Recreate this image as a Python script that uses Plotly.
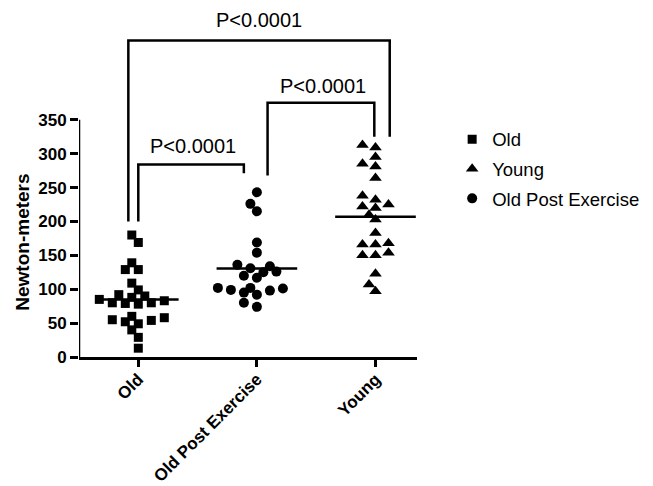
import numpy as np
import plotly.graph_objects as go

# ---------------- data ----------------
categories = ["Old", "Old Post Exercise", "Young"]
old_values = [180, 169, 139, 129, 129, 109, 99, 92, 90, 88, 85, 83, 80, 80, 79, 78,
              60, 58, 55, 54, 52, 49, 40, 29, 13]
ope_values = [243, 226, 215, 169, 154, 136, 134, 131, 126, 125, 120, 117, 102, 102,
              101, 99, 98, 95, 92, 80, 74]
young_values = [309, 313, 295, 285, 281, 264, 238, 232, 222, 220, 225, 203, 210, 183,
                166, 168, 166, 154, 150, 150, 123, 97, 107]
y_ticks = [0, 50, 100, 150, 200, 250, 300, 350]
p_labels = ["P<0.0001", "P<0.0001", "P<0.0001"]
y_title = "Newton-meters"

# ---------------- layout constants ----------------
# page body has an 8px default margin, so the figure is slightly smaller
W, H = 645, 478
ML, MR, MT, MB = 71, 236, 0, 129
Y_RANGE = [0, 515]
X_RANGE = [-0.5, 2.35]
px_per_y = (H - MT - MB) / (Y_RANGE[1] - Y_RANGE[0])
px_per_x = (W - ML - MR) / (X_RANGE[1] - X_RANGE[0])
FONT = "Liberation Sans, Arial, sans-serif"


def swarm(values, diam=8.0, step=6.5):
    """Beeswarm horizontal offsets (category units) so markers do not overlap much."""
    placed = []
    offs = [0.0] * len(values)
    order = np.argsort(values)
    cand = [0] + [s for j in range(1, 12) for s in (-j, j)]
    for i in order:
        v = values[i]
        chosen = 0
        for s in cand:
            ok = True
            for ps, pv in placed:
                dx = (s - ps) * step
                dy = (v - pv) * px_per_y
                if dx * dx + dy * dy < diam * diam:
                    ok = False
                    break
            if ok:
                chosen = s
                break
        placed.append((chosen, v))
        offs[i] = chosen * step / px_per_x
    return offs


groups = [
    ("Old", 0, old_values, "square", 9),
    ("Young", 2, young_values, "triangle-up", 11),
    ("Old Post Exercise", 1, ope_values, "circle", 10),
]

fig = go.Figure()
for name, xi, vals, sym, size in groups:
    offs = swarm(vals)
    fig.add_trace(go.Scatter(
        x=[xi + o for o in offs], y=vals, mode="markers", name=name,
        legendgroup=name,
        marker=dict(symbol=sym, size=size, color="black", line=dict(width=0)),
        cliponaxis=False,
    ))

shapes = []
# mean lines
for name, xi, vals, sym, size in groups:
    m = float(np.mean(vals))
    shapes.append(dict(type="line", xref="x", yref="y", x0=xi - 0.34, x1=xi + 0.34,
                       y0=m, y1=m, line=dict(color="black", width=2.5)))

# custom y-axis line (only up to 350)
shapes.append(dict(type="line", xref="x", yref="y", x0=X_RANGE[0], x1=X_RANGE[0],
                   y0=0, y1=y_ticks[-1], line=dict(color="black", width=2.5)))


def bracket(xa, xb, ya, yb, top):
    return dict(type="path", xref="x", yref="y",
                path=f"M {xa},{ya} L {xa},{top} L {xb},{top} L {xb},{yb}",
                line=dict(color="black", width=2.5))


shapes.append(bracket(-0.084, 2.12, 200, 325, 467))
shapes.append(bracket(0.0, 0.89, 200, 271, 284))
shapes.append(bracket(1.09, 1.99, 268, 325, 375))

annotations = [
    dict(x=1.017, y=497, text=p_labels[0]),
    dict(x=0.46, y=312, text=p_labels[1]),
    dict(x=1.56, y=400, text=p_labels[2]),
]
for a in annotations:
    a.update(xref="x", yref="y", showarrow=False, xanchor="center", yanchor="middle",
             font=dict(family=FONT, size=20, color="black"))

# y-axis title (centered on the drawn 0-350 axis region)
annotations.append(dict(
    xref="paper", yref="y", x=-0.166, y=170, text=y_title, textangle=-90,
    showarrow=False, xanchor="center", yanchor="middle",
    font=dict(family=FONT, size=19, color="black", weight="bold")))

fig.update_layout(
    template="none",
    width=W, height=H, autosize=False,
    margin=dict(l=ML, r=MR, t=MT, b=MB, autoexpand=False),
    plot_bgcolor="white", paper_bgcolor="white",
    shapes=shapes, annotations=annotations,
    showlegend=True,
    legend=dict(x=1.104, xanchor="left", y=0.677, yanchor="top",
                font=dict(family=FONT, size=18.5, color="black"),
                tracegroupgap=2.5, bgcolor="rgba(0,0,0,0)", itemwidth=30,
                borderwidth=0),
    xaxis=dict(range=X_RANGE, tickvals=[0, 1, 2], ticktext=categories,
               tickangle=-45, showgrid=False, zeroline=False, automargin=False,
               showline=True, linecolor="black", linewidth=2.5,
               ticks="outside", ticklen=7, tickwidth=2.5, tickcolor="black",
               ticklabelstandoff=-4,
               tickfont=dict(family=FONT, size=17, color="black", weight="bold")),
    yaxis=dict(range=Y_RANGE, tickvals=y_ticks, showgrid=False, zeroline=False,
               automargin=False,
               showline=False, ticks="outside", ticklen=8, tickwidth=2.5,
               tickcolor="black",
               tickfont=dict(family=FONT, size=17, color="black", weight="bold")),
)

fig.write_html("out.html")
